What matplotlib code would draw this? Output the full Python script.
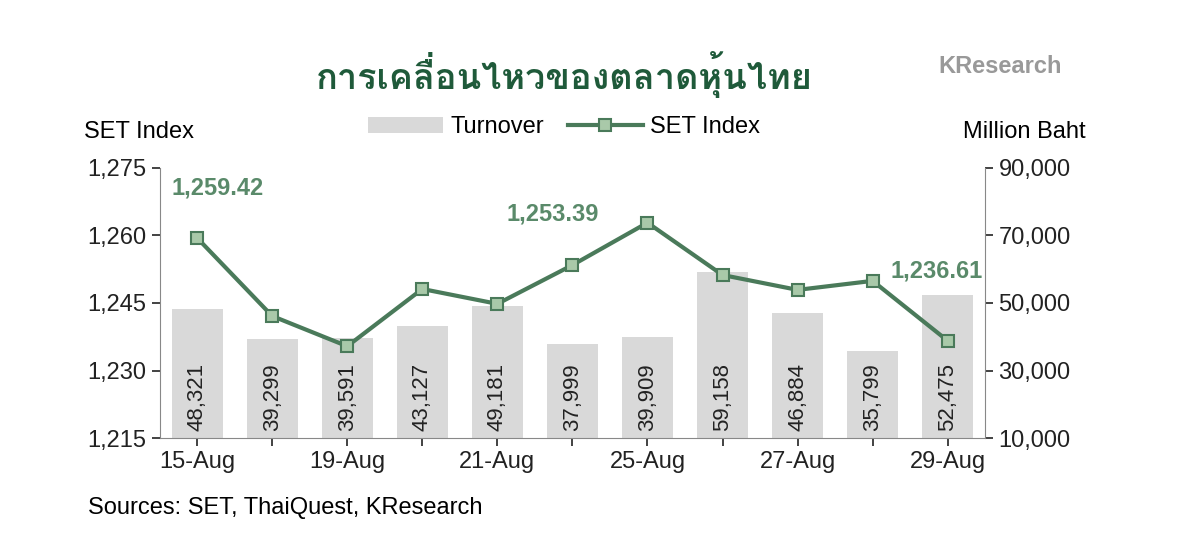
import matplotlib
matplotlib.use("Agg")
import matplotlib.pyplot as plt
from matplotlib import font_manager as fm
from matplotlib.ft2font import FT2Font
import numpy as np

dates = ["15-Aug","18-Aug","19-Aug","20-Aug","21-Aug","22-Aug","25-Aug","26-Aug","27-Aug","28-Aug","29-Aug"]
turnover = [48321,39299,39591,43127,49181,37999,39909,59158,46884,35799,52475]
set_index = [1259.42,1242.1,1235.4,1248.1,1244.8,1253.4,1262.8,1251.2,1247.9,1249.9,1236.61]
tick_labels = ["15-Aug","19-Aug","21-Aug","25-Aug","27-Aug","29-Aug"]
title = "การเคลื่อนไหวของตลาดหุ้นไทย"

thai_families = []
for f in fm.fontManager.ttflist:
    try:
        if 0x0E01 in FT2Font(f.fname).get_charmap() and f.name not in thai_families:
            thai_families.append(f.name)
    except Exception:
        pass

plt.rcParams['font.family'] = ['Liberation Sans', 'DejaVu Sans']
fig = plt.figure(figsize=(12, 5.41), dpi=100)
axr = fig.add_axes([0.133, 0.19, 0.688, 0.5])
axl = axr.twinx()
axr.yaxis.tick_right(); axr.yaxis.set_label_position("right")
axl.yaxis.tick_left()
x = np.arange(len(dates))
axr.bar(x, turnover, width=0.68, color="#d9d9d9", label="Turnover")
axr.set_ylim(10000, 90000)
axr.set_yticks(range(10000, 90001, 20000))
axr.set_yticklabels([f"{v:,}" for v in range(10000, 90001, 20000)])
for xi, v in zip(x, turnover):
    axr.text(xi, 12000, f"{v:,}", rotation=90, ha="center", va="bottom", fontsize=16, color="#222222")
axl.plot(x, set_index, color="#4a7a5a", lw=3, marker="s", ms=9, mfc="#a9c9a9", mec="#4a7a5a", mew=1.5, label="SET Index")
axl.set_ylim(1215, 1275)
axl.set_yticks(range(1215, 1276, 15))
axl.set_yticklabels([f"{v:,}" for v in range(1215, 1276, 15)])
axr.set_xlim(-0.5, 10.5)
axr.set_xticks(x)
axr.set_xticklabels([d if d in tick_labels else "" for d in dates])
for ax in (axr, axl):
    ax.tick_params(labelsize=17, colors="#222222", length=6, width=1.2)
    for s in ax.spines.values():
        s.set_visible(False)
axr.spines["bottom"].set_visible(True); axr.spines["bottom"].set_color("#888888")
axl.spines["left"].set_visible(True); axl.spines["left"].set_color("#888888")
axl.spines["right"].set_visible(True); axl.spines["right"].set_color("#888888")
for i, lab, off in [(0, "1,259.42", (15, 28)), (6, "1,253.39", (-68, -2)), (10, "1,236.61", (-8, 42))]:
    axl.annotate(lab, (x[i], set_index[i]), xytext=off, textcoords="offset points",
                 ha="center", va="bottom", fontsize=17, fontweight="bold", color="#5a8a6a")
fig.text(0.47, 0.835, title, ha="center", fontsize=26, fontweight="bold", color="#1f5a3a",
         family=thai_families + ['DejaVu Sans'])
fig.text(0.885, 0.865, "KResearch", ha="right", fontsize=17, fontweight="bold", color="#999999")
fig.text(0.07, 0.745, "SET Index", fontsize=17)
fig.text(0.905, 0.745, "Million Baht", fontsize=17, ha="right")
h1, l1 = axr.get_legend_handles_labels(); h2, l2 = axl.get_legend_handles_labels()
fig.legend(h1 + h2, l1 + l2, loc="center", bbox_to_anchor=(0.47, 0.765), ncol=2, frameon=False, fontsize=17,
           handlelength=3.2, columnspacing=1.0, handletextpad=0.3)
fig.text(0.073, 0.05, "Sources: SET, ThaiQuest, KResearch", fontsize=17)
fig.savefig("out.png", dpi=100)
